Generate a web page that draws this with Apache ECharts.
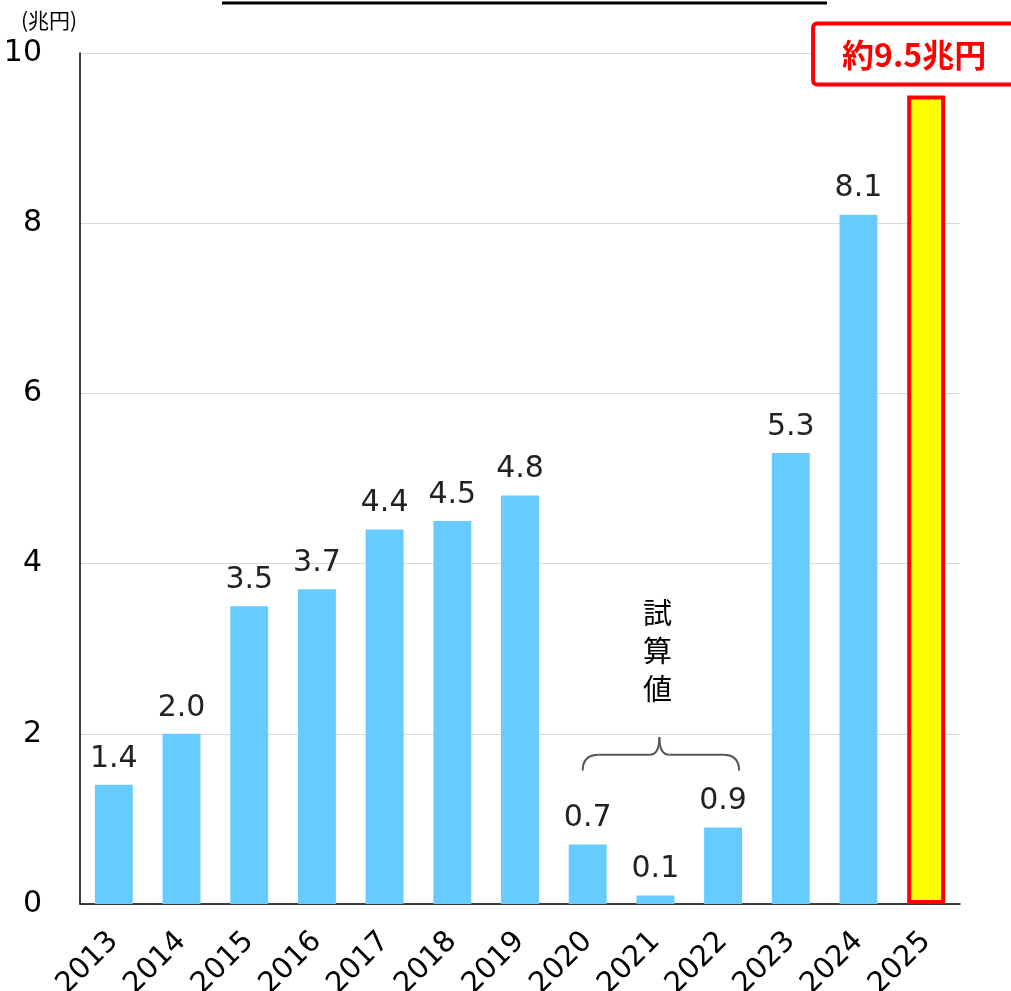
<!DOCTYPE html>
<html>
<head>
<meta charset="utf-8">
<script src="https://cdn.jsdelivr.net/npm/echarts@6/dist/echarts.min.js"></script>
<style>
  html, body { margin: 0; padding: 0; background: #fff; }
  #chart { width: 1011px; height: 991px; }
</style>
</head>
<body>
<div id="chart"></div>
<script>
const years = ['2013', '2014', '2015', '2016', '2017', '2018', '2019', '2020', '2021', '2022', '2023', '2024', '2025'];
const values = [1.4, 2.0, 3.5, 3.7, 4.4, 4.5, 4.8, 0.7, 0.1, 0.9, 5.3, 8.1, 9.5];
const yTicks = [0, 2, 4, 6, 8, 10];
const unitLabel = '(兆円)';
const calloutText = '約9.5兆円';
const estimateNote = '試算値';
const estimateYears = ['2020', '2021', '2022'];

const FONT = 'Verdana, "DejaVu Sans", sans-serif';
const CJK = '"Noto Sans CJK JP", sans-serif';

const chart = echarts.init(document.getElementById('chart'));

const barData = values.map((v, i) => {
  if (i === values.length - 1) {
    return {
      value: v,
      itemStyle: { color: '#FFFF00', borderColor: '#FF0000', borderWidth: 4 },
      label: {
        formatter: calloutText,
        color: '#FF0000',
        fontFamily: CJK,
        fontWeight: 'bold',
        fontSize: 32,
        lineHeight: 34,
        backgroundColor: '#fff',
        borderColor: '#FF0000',
        borderWidth: 4,
        borderRadius: 2,
        padding: [12, 27, 11, 27],
        distance: 13,
        offset: [-12, 0]
      }
    };
  }
  return v;
});

const option = {
  animation: false,
  grid: { left: 80, right: 51, top: 53, bottom: 87, containLabel: false, outerBoundsMode: 'none' },
  xAxis: {
    type: 'category',
    data: years,
    axisLine: { lineStyle: { color: '#000', width: 1.5 } },
    axisTick: { length: 8, lineStyle: { color: '#000' } },
    axisLabel: {
      rotate: 45,
      fontSize: 29,
      color: '#000',
      fontFamily: FONT,
      margin: 33,
      interval: 0
    }
  },
  yAxis: {
    type: 'value',
    min: yTicks[0],
    max: yTicks[yTicks.length - 1],
    interval: 2,
    axisLine: { show: true, lineStyle: { color: '#000', width: 1.5 } },
    axisTick: { show: false },
    splitLine: { lineStyle: { color: '#d9d9d9' } },
    axisLabel: { fontSize: 30, color: '#000', fontFamily: FONT, margin: 38 }
  },
  series: [{
    type: 'bar',
    data: barData,
    barWidth: '56%',
    itemStyle: { color: '#66CCFF' },
    label: {
      show: true,
      position: 'top',
      distance: 11,
      fontSize: 30,
      color: '#222',
      fontFamily: FONT,
      formatter: p => p.value.toFixed(1)
    }
  }]
};

chart.setOption(option);

// brace and note over the estimated years, placed from the axis scales
const px = (cat, v) => chart.convertToPixel({ gridIndex: 0 }, [cat, v]);
const a = px(estimateYears[0], 1.57);
const m = px(estimateYears[1], 1.96);
const b = px(estimateYears[2], 1.57);
const x0 = a[0] - 5, x1 = m[0] + 4, x2 = b[0] + 16;
const yb = a[1], yt = m[1], ym = (yb + yt) / 2 + 1;
const braceStyle = { stroke: '#555', lineWidth: 2, fill: null };
const curve = (sx, sy, cx, cy, ex, ey) => ({
  type: 'bezierCurve',
  shape: { x1: sx, y1: sy, cpx1: cx, cpy1: cy, x2: ex, y2: ey },
  style: braceStyle
});
const seg = (sx, sy, ex, ey, style) => ({
  type: 'line',
  shape: { x1: sx, y1: sy, x2: ex, y2: ey },
  style: style || braceStyle
});

chart.setOption({
  graphic: [
    seg(222, 3, 827, 3, { stroke: '#000', lineWidth: 3 }),
    {
      type: 'text',
      left: 21, top: 10,
      style: { text: unitLabel, fontSize: 21, fill: '#000', fontFamily: CJK }
    },
    curve(x0, yb, x0, ym, x0 + 16, ym),
    seg(x0 + 16, ym, x1 - 10, ym),
    curve(x1 - 10, ym, x1, ym, x1, yt),
    curve(x1, yt, x1, ym, x1 + 10, ym),
    seg(x1 + 10, ym, x2 - 16, ym),
    curve(x2 - 16, ym, x2, ym, x2, yb),
    {
      type: 'text',
      x: m[0] + 2,
      y: yt - 143,
      style: {
        text: estimateNote.split('').join('\n'),
        fontSize: 29,
        lineHeight: 38,
        fill: '#000',
        fontFamily: CJK,
        align: 'center'
      }
    }
  ]
});
</script>
</body>
</html>
